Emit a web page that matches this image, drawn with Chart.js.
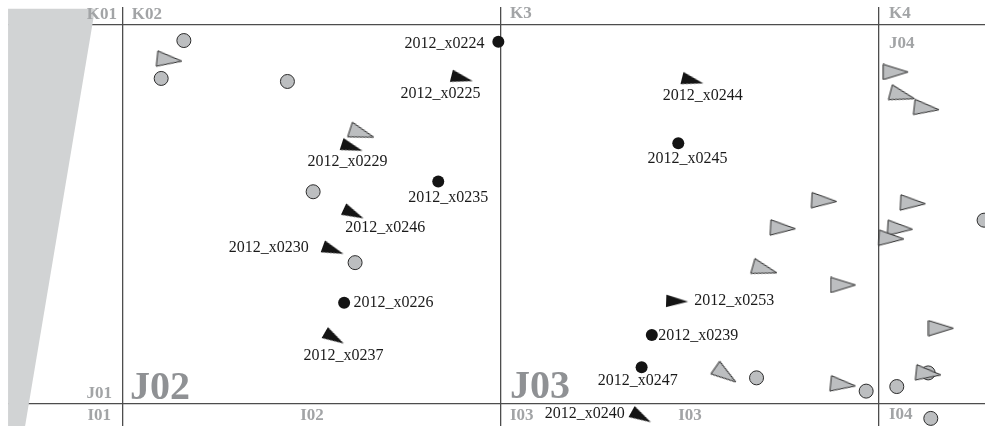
<!DOCTYPE html>
<html><head><meta charset="utf-8">
<script src="https://cdn.jsdelivr.net/npm/chart.js@4.4.1/dist/chart.umd.min.js"></script>
<style>html,body{margin:0;padding:0;background:#fff}canvas{display:block}</style>
</head><body>
<canvas id="c" width="985" height="426"></canvas>
<script>
// ---- DATA (centimetres, grid squares are 100 cm) ----
const blackCircleIds = ['2012_x0224','2012_x0235','2012_x0245','2012_x0226','2012_x0239','2012_x0247'];
const blackCircleX = [199.3,183.4,246.9,158.5,239.9,237.2];
const blackCircleY = [95.6,58.7,68.8,26.7,18.2,9.7];

const blackTriIds = ['2012_x0225','2012_x0229','2012_x0246','2012_x0230','2012_x0237','2012_x0244','2012_x0253','2012_x0240'];
const blackTriX = [189.7,160.6,161.0,155.6,155.9,250.7,246.6,237.1];
const blackTriY = [85.9,67.7,50.2,40.6,17.4,85.3,27.1,-3.4];
const blackTriAngle = [14,18,25,20,30,14,2,29];

const grayCircleX = [116.1,110.1,143.5,150.3,161.4,327.8,267.6,296.6,304.7,313.0,313.7];
const grayCircleY = [95.9,85.9,85.1,56.0,37.3,48.5,6.9,3.4,4.6,8.2,-3.8];

const grayTriX = [112.3,163.2,304.4,306.2,312.6,285.5,274.6,309.0,305.6,303.3,269.8,290.5,316.4,313.1,290.5,259.4];
const grayTriY = [90.8,71.4,87.6,81.4,78.0,53.6,46.4,53.0,46.3,43.7,35.5,31.4,20.0,8.0,5.1,7.7];
const grayTriAngle = [6,18,0,15,6.5,3,3,3,3.5,3,16,0,0,6,6,35];

const shadeX = [69.6,92.6,74.1,69.6];
const shadeY = [104.3,104.3,-5.8,-5.8];

const gridX = [100,200,300];
const gridY = [0,100];

const gridLabelText = ['K01','K02','K3','K4','J04','J01','J02','J03','I01','I02','I03','I03','I04'];

// ---- LAYOUT / STYLE ----
const labelOffset = {
 '2012_x0224':[-53.8,2.3], '2012_x0235':[10,16], '2012_x0245':[9.2,15.7], '2012_x0226':[49.3,0],
 '2012_x0239':[46.5,1], '2012_x0247':[-3.9,13.7],
 '2012_x0225':[-21.5,15.7], '2012_x0229':[-4.6,14.1], '2012_x0246':[31.7,14], '2012_x0230':[-64.3,-2.7],
 '2012_x0237':[9.2,18], '2012_x0244':[10.2,15.2], '2012_x0253':[57,0], '2012_x0240':[-56.5,-3.3]
};
// [gridX value, gridY value, dx, dy, align, big]
const gridLabelLayout = [
 [100,100,-6,-10,'right',false],
 [100,100,8.7,-10,'left',false],
 [200,100,9,-11,'left',false],
 [300,100,10,-11,'left',false],
 [300,100,10,18.3,'left',false],
 [100,0,-11,-10,'right',false],
 [100,0,7,-4.7,'left',true],
 [200,0,9,-5.7,'left',true],
 [100,0,-12,12,'right',false],
 [150,0,0,12,'center',false],
 [200,0,9,12,'left',false],
 [250,0,0,12,'center',false],
 [300,0,10,11,'left',false]
];

const GRAY_FILL = '#bcbec0', OUTLINE = '#2b2b2b', BLACK = '#141414', SHADE = '#d1d3d4';

function makeTri(w, h, fill, stroke) {
  const c = document.createElement('canvas');
  c.width = w; c.height = h;
  const g = c.getContext('2d');
  g.beginPath();
  g.moveTo(1, 0.8); g.lineTo(1, h - 0.8); g.lineTo(w - 1, h / 2); g.closePath();
  g.fillStyle = fill; g.fill();
  if (stroke) { g.lineWidth = 1; g.strokeStyle = stroke; g.stroke(); }
  return c;
}
const grayTri = makeTri(27, 17, GRAY_FILL, OUTLINE);
const blackTri = makeTri(24, 14, BLACK, null);

const zip = (xs, ys) => xs.map((x, i) => ({x, y: ys[i]}));

const labelPlugin = {
  id: 'labels',
  afterDatasetsDraw(chart) {
    const ctx = chart.ctx, sx = chart.scales.x, sy = chart.scales.y;
    ctx.save();
    ctx.font = '16px "Liberation Serif", "Times New Roman", serif';
    ctx.fillStyle = '#1a1a1a';
    ctx.textAlign = 'center'; ctx.textBaseline = 'middle';
    const put = (ids, xs, ys) => ids.forEach((id, i) => {
      const o = labelOffset[id];
      ctx.fillText(id, sx.getPixelForValue(xs[i]) + o[0], sy.getPixelForValue(ys[i]) + o[1]);
    });
    put(blackCircleIds, blackCircleX, blackCircleY);
    put(blackTriIds, blackTriX, blackTriY);
    gridLabelText.forEach((t, i) => {
      const [gx, gy, dx, dy, align, big] = gridLabelLayout[i];
      ctx.textAlign = align;
      if (big) {
        ctx.font = 'bold 40px "Liberation Serif", serif';
        ctx.fillStyle = '#8f9194';
        ctx.textBaseline = 'alphabetic';
      } else {
        ctx.font = 'bold 17px "Liberation Serif", serif';
        ctx.fillStyle = '#a2a4a6';
        ctx.textBaseline = 'middle';
      }
      ctx.fillText(t, sx.getPixelForValue(gx) + dx, sy.getPixelForValue(gy) + dy);
    });
    ctx.restore();
  }
};

new Chart(document.getElementById('c'), {
  type: 'scatter',
  data: {
    datasets: [
      { type: 'line', label: 'shade', data: zip(shadeX, shadeY), fill: 'shape', backgroundColor: SHADE,
        borderWidth: 0, borderColor: 'rgba(0,0,0,0)', pointRadius: 0, tension: 0, order: 10 },
      { label: 'gray circles', data: zip(grayCircleX, grayCircleY), pointRadius: 7, pointBackgroundColor: GRAY_FILL,
        pointBorderColor: OUTLINE, pointBorderWidth: 1, order: 5, clip: false },
      { label: 'gray triangles', data: zip(grayTriX, grayTriY), pointStyle: grayTri, pointRotation: grayTriAngle,
        order: 4 },
      { label: 'black circles', data: zip(blackCircleX, blackCircleY), pointRadius: 6, pointBackgroundColor: BLACK,
        pointBorderWidth: 0, order: 2 },
      { label: 'black triangles', data: zip(blackTriX, blackTriY), pointStyle: blackTri, pointRotation: blackTriAngle,
        order: 1 }
    ]
  },
  options: {
    responsive: false, animation: false, devicePixelRatio: 1,
    layout: { autoPadding: false, padding: { left: 8, top: 7, right: 0, bottom: 0 } },
    plugins: { legend: { display: false }, tooltip: { enabled: false } },
    events: [],
    scales: {
      x: { type: 'linear', min: 69.577, max: 328.042, z: 0,
        afterBuildTicks: s => { s.ticks = gridX.map(v => ({value: v})); },
        ticks: { display: false }, border: { display: false },
        grid: { color: '#4d4d4d', lineWidth: 1.3, drawTicks: false } },
      y: { type: 'linear', min: -5.805, max: 104.749, z: 1,
        afterBuildTicks: s => { s.ticks = gridY.map(v => ({value: v})); },
        ticks: { display: false }, border: { display: false },
        grid: { color: '#4d4d4d', lineWidth: 1.3, drawTicks: false } }
    }
  },
  plugins: [labelPlugin]
});
</script>
</body></html>
